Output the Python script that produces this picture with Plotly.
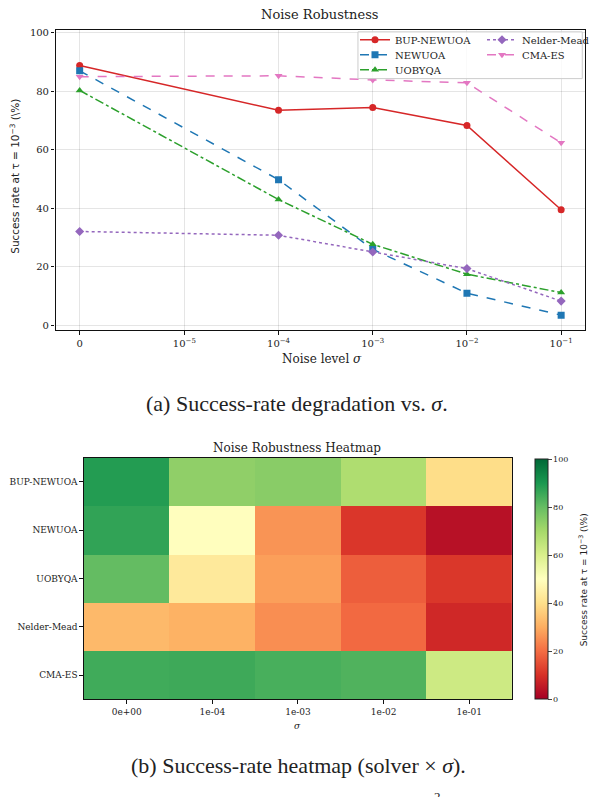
import math
import plotly.graph_objects as go

W, H = 609, 797

# ---------------- data ----------------
sigmas = [0.0, 1e-4, 1e-3, 1e-2, 1e-1]
solvers = ["BUP-NEWUOA", "NEWUOA", "UOBYQA", "Nelder-Mead", "CMA-ES"]
bup_newuoa = [88.8, 73.5, 74.5, 68.3, 39.5]
newuoa = [87.0, 49.8, 26.0, 11.0, 3.5]
uobyqa = [80.3, 43.0, 27.7, 17.5, 11.2]
nelder_mead = [32.1, 30.8, 25.1, 19.4, 8.3]
cma_es = [85.0, 85.3, 83.9, 82.9, 62.4]
series = [bup_newuoa, newuoa, uobyqa, nelder_mead, cma_es]

xtick_vals = [0.0, 1e-5, 1e-4, 1e-3, 1e-2, 1e-1]
xtick_text = ["0", "10<sup>−5</sup>", "10<sup>−4</sup>", "10<sup>−3</sup>",
              "10<sup>−2</sup>", "10<sup>−1</sup>"]
ytick_vals = [0, 20, 40, 60, 80, 100]
heat_xlabels = ["0e+00", "1e-04", "1e-03", "1e-02", "1e-01"]
cbar_ticks = [0, 20, 40, 60, 80, 100]

# ---------------- styling ----------------
colors = ["#d62728", "#1f77b4", "#2ca02c", "#9467bd", "#e377c2"]
dashes = ["solid", "dash", "dashdot", "dot", "dash"]
symbols = ["circle", "square", "triangle-up", "diamond", "triangle-down"]
# legend layout: column-major like matplotlib ncol=2 (rows of 3 then 2)
legend_ids = ["legend", "legend2", "legend3", "legend", "legend2"]

LINTHRESH = 1e-5
LINSCALE_ADJ = 1.0 / (1.0 - 0.1)


def symlog(v):
    if v == 0:
        return 0.0
    if abs(v) < LINTHRESH:
        return v / LINTHRESH * LINSCALE_ADJ
    return LINSCALE_ADJ + math.log10(abs(v) / LINTHRESH)


def px(x):
    return x / W


def py(y):
    return 1 - y / H


SERIF = "DejaVu Serif"
SANS = "DejaVu Sans"
CAP = "Liberation Serif"

fig = go.Figure()

xs = [symlog(s) for s in sigmas]
for i, (name, ys) in enumerate(zip(solvers, series)):
    fig.add_trace(go.Scatter(
        x=xs, y=ys, mode="lines+markers", name=name,
        line=dict(color=colors[i], width=1.5, dash=dashes[i]),
        marker=dict(symbol=symbols[i], size=7, color=colors[i]),
        xaxis="x", yaxis="y", legend=legend_ids[i],
    ))

rdylgn = [
    [0.0, "#a50026"], [0.1, "#d73027"], [0.2, "#f46d43"], [0.3, "#fdae61"],
    [0.4, "#fee08b"], [0.5, "#ffffbf"], [0.6, "#d9ef8b"], [0.7, "#a6d96a"],
    [0.8, "#66bd63"], [0.9, "#1a9850"], [1.0, "#006837"],
]

fig.add_trace(go.Heatmap(
    z=series, x=heat_xlabels, y=solvers, colorscale=rdylgn, zmin=0, zmax=100,
    xaxis="x2", yaxis="y2", showscale=True, showlegend=False,
    colorbar=dict(
        x=px(549), xanchor="left", y=py(700), yanchor="bottom",
        len=(700 - 459) / H, lenmode="fraction", thickness=13,
        thicknessmode="pixels", outlinewidth=1, outlinecolor="#222",
        xpad=0, ypad=0,
        tickvals=cbar_ticks, ticks="outside", ticklen=3.5,
        tickfont=dict(family=SERIF, size=8, color="#222"),
    ),
))

xmin, xmax = symlog(0), symlog(1e-1)
pad = 0.05 * (xmax - xmin)

grid = "rgba(0,0,0,0.10)"
leg_common = dict(
    orientation="h", xanchor="left", yanchor="middle",
    bgcolor="rgba(0,0,0,0)", borderwidth=0,
    font=dict(family=SERIF, size=10), itemwidth=30,
    entrywidth=82, entrywidthmode="pixels",
)
fig.update_layout(
    width=W, height=H, margin=dict(l=0, r=0, t=0, b=0),
    paper_bgcolor="white", plot_bgcolor="white",
    font=dict(family=SERIF, size=10, color="#222"),
    xaxis=dict(
        domain=[px(57), px(600)], anchor="y", range=[xmin - pad, xmax + pad],
        tickvals=[symlog(v) for v in xtick_vals], ticktext=xtick_text,
        showgrid=True, gridcolor=grid, gridwidth=1, zeroline=False,
        showline=True, linecolor="#111", linewidth=1.2, mirror=True,
        ticks="outside", ticklen=3.5, tickcolor="#111",
        tickfont=dict(family=SERIF, size=10),
    ),
    yaxis=dict(
        domain=[py(329), py(27)], anchor="x", range=[-1.7, 101.0],
        tickvals=ytick_vals, showgrid=True, gridcolor=grid, gridwidth=1,
        zeroline=False, showline=True, linecolor="#111", linewidth=1.2,
        mirror=True, ticks="outside", ticklen=3.5, tickcolor="#111",
        tickfont=dict(family=SERIF, size=10),
    ),
    xaxis2=dict(
        domain=[px(86), px(525)], anchor="y2", type="category",
        showgrid=False, zeroline=False, showline=True, linecolor="#111",
        linewidth=1, mirror=True, ticks="outside", ticklen=3.5,
        tickcolor="#111", tickfont=dict(family=SERIF, size=9),
    ),
    yaxis2=dict(
        domain=[py(700), py(457)], anchor="x2", type="category",
        autorange="reversed", showgrid=False, zeroline=False, showline=True,
        linecolor="#111", linewidth=1, mirror=True, ticks="outside",
        ticklen=3.5, tickcolor="#111", tickfont=dict(family=SERIF, size=9),
    ),
    legend=dict(x=px(364), y=py(37), **leg_common),
    legend2=dict(x=px(364), y=py(52), **leg_common),
    legend3=dict(x=px(364), y=py(67), **leg_common),
    shapes=[dict(
        type="rect", xref="paper", yref="paper", layer="above",
        x0=px(367), x1=px(597), y0=py(76), y1=py(29),
        fillcolor="rgba(255,255,255,0.8)", line=dict(color="#cccccc", width=1),
    )],
    showlegend=True,
)

annotations = [
    dict(text="Noise Robustness", x=px(328), y=py(12), font=dict(family=SERIF, size=13)),
    dict(text="Noise level <i>σ</i>", x=px(330), y=py(358), font=dict(family=SERIF, size=12)),
    dict(text="Success rate at τ = 10<sup>−3</sup> (\\%)", x=px(14), y=py(174),
         textangle=-90, font=dict(family=SANS, size=10.5)),
    dict(text="(a) Success-rate degradation vs. <i>σ</i>.", x=px(304), y=py(403),
         font=dict(family=CAP, size=22)),
    dict(text="Noise Robustness Heatmap", x=px(305), y=py(447), font=dict(family=SERIF, size=12)),
    dict(text="<i>σ</i>", x=px(305), y=py(727), font=dict(family=SERIF, size=9)),
    dict(text="Success rate at τ = 10<sup>−3</sup> (\\%)", x=px(598), y=py(580),
         textangle=-90, font=dict(family=SANS, size=9)),
    dict(text="(b) Success-rate heatmap (solver × <i>σ</i>).", x=px(306), y=py(766),
         font=dict(family=CAP, size=22)),
    dict(text="2", x=px(449), y=py(798), font=dict(family=CAP, size=13)),
]
for a in annotations:
    a.update(xref="paper", yref="paper", showarrow=False, xanchor="center", yanchor="middle")
fig.update_layout(annotations=annotations)

fig.write_html("out.html")
